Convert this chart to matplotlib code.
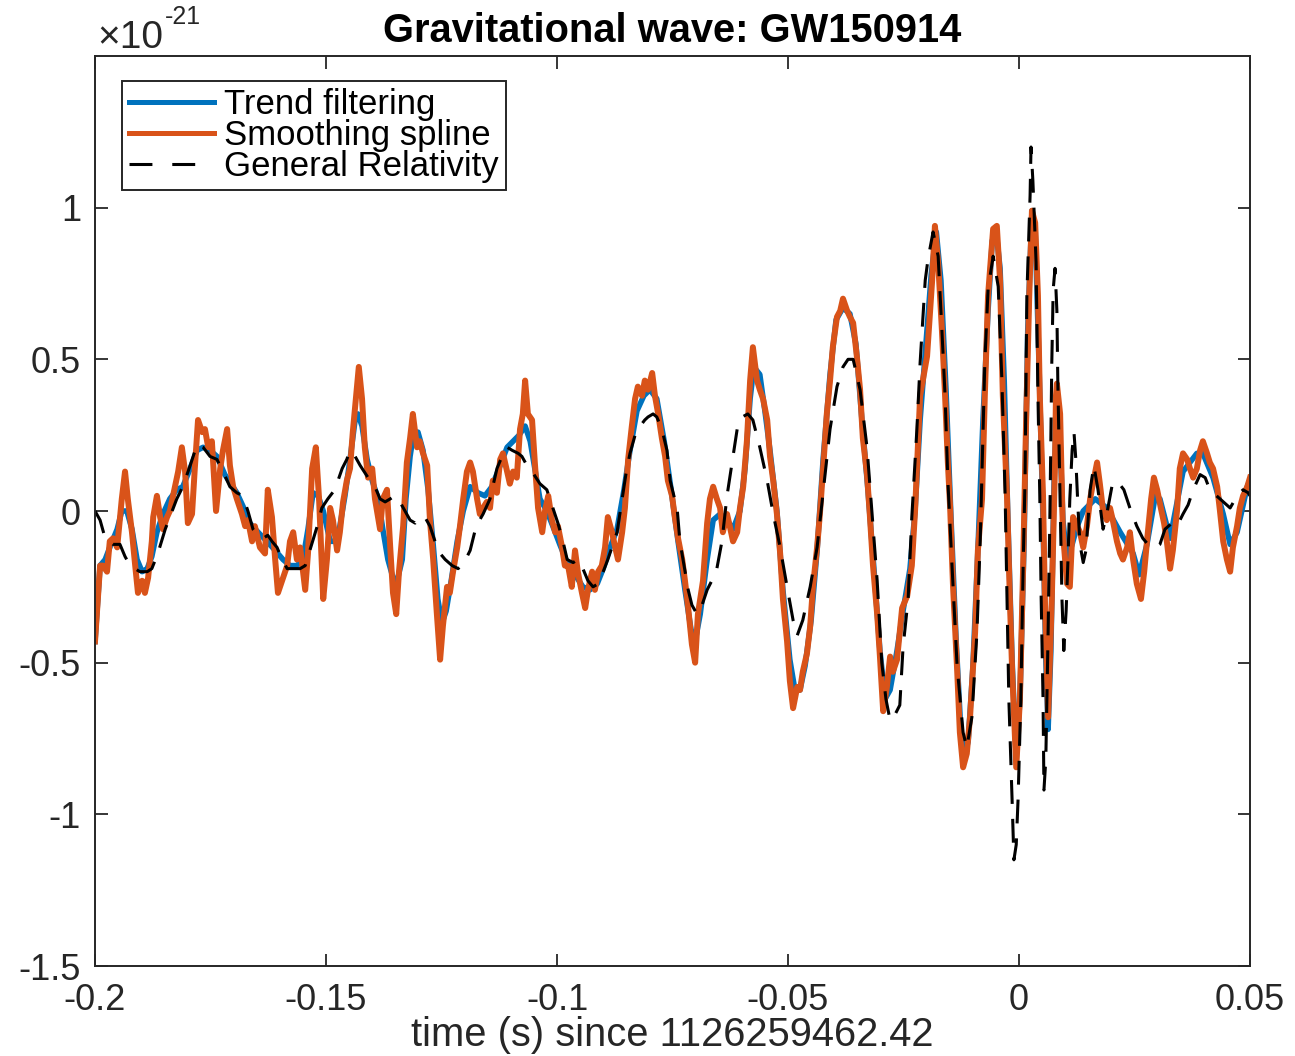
import numpy as np
import matplotlib
matplotlib.use("Agg")
import matplotlib.pyplot as plt
from matplotlib.lines import Line2D

plt.rcParams['font.family'] = ['Liberation Sans', 'DejaVu Sans']
plt.rcParams['axes.unicode_minus'] = False

# ---------------- data (time in ms since 1126259462.42, strain in 1e-21) ----------------
t_ss = [-200.0, -198.9, -198.3, -197.4, -196.8, -196.1, -195.2, -194.2, -193.5, -192.9,
        -192.0, -191.3, -190.7, -189.8, -189.2, -188.5, -187.7, -187.4, -186.6, -185.9,
        -185.3, -184.4, -183.8, -182.7, -182.0, -181.2, -180.5, -179.9, -179.0, -178.4,
        -177.7, -176.8, -176.2, -175.5, -174.7, -173.8, -172.9, -172.3, -171.4, -170.8,
        -170.1, -169.3, -168.2, -167.5, -166.9, -166.0, -165.4, -164.3, -163.2, -162.6,
        -161.7, -161.0, -160.4, -159.5, -158.4, -157.8, -157.1, -156.3, -155.6, -154.5,
        -153.9, -153.0, -152.2, -151.5, -150.6, -149.8, -149.1, -148.5, -147.6, -147.0,
        -146.3, -145.5, -144.8, -144.2, -143.3, -142.9, -142.2, -141.6, -140.9, -140.0,
        -139.4, -138.3, -137.7, -136.8, -136.1, -135.5, -134.8, -134.2, -133.3, -132.5,
        -131.8, -131.2, -130.3, -129.7, -129.0, -128.1, -127.5, -126.8, -126.0, -125.3,
        -124.7, -123.8, -123.2, -122.5, -121.6, -121.0, -120.3, -119.5, -118.8, -118.2,
        -117.3, -116.7, -116.0, -115.2, -114.5, -113.9, -113.0, -112.3, -111.7, -110.8,
        -110.2, -109.5, -108.7, -108.0, -107.4, -106.9, -106.3, -105.4, -104.8, -104.1,
        -103.2, -102.6, -101.9, -101.1, -100.4, -99.8, -98.9, -98.3, -97.6, -96.8,
        -96.1, -95.5, -94.6, -93.9, -93.3, -92.4, -91.8, -91.1, -90.3, -89.6,
        -89.0, -88.1, -87.4, -86.8, -85.9, -85.3, -84.6, -83.8, -83.1, -82.5,
        -81.6, -81.0, -80.3, -79.4, -78.8, -78.1, -77.3, -76.6, -76.0, -75.1,
        -74.5, -73.8, -72.9, -72.3, -71.6, -70.8, -70.1, -69.5, -68.4, -67.5,
        -66.9, -66.2, -65.4, -64.7, -64.1, -63.2, -62.6, -61.9, -61.0, -60.4,
        -59.7, -58.9, -58.2, -57.6, -56.7, -56.1, -55.4, -54.5, -53.9, -53.2,
        -52.4, -51.7, -51.1, -50.2, -49.6, -48.9, -48.0, -47.4, -46.8, -45.9,
        -45.2, -44.6, -43.7, -43.1, -42.4, -41.6, -40.9, -40.3, -39.4, -38.7,
        -38.1, -37.2, -36.6, -35.9, -35.1, -34.4, -33.8, -32.9, -32.3, -31.6,
        -30.7, -30.1, -29.4, -28.6, -27.9, -27.3, -26.4, -25.3, -24.2, -23.2,
        -22.5, -21.4, -19.9, -18.8, -18.2, -17.5, -16.7, -16.0, -15.4, -14.9,
        -14.3, -13.4, -12.8, -12.1, -11.3, -10.6, -9.5, -8.9, -8.0, -7.4,
        -6.7, -5.6, -4.8, -4.1, -3.5, -2.6, -1.9, -1.5, -0.6, 0.2,
        0.9, 1.5, 2.2, 2.8, 3.5, 4.1, 4.5, 5.2, 5.6, 6.1,
        6.3, 7.1, 7.8, 8.0, 8.2, 8.9, 9.3, 9.5, 10.4, 11.0,
        11.7, 12.6, 13.2, 13.9, 14.7, 15.4, 16.0, 16.9, 17.5, 18.2,
        19.0, 19.7, 20.3, 21.2, 21.9, 22.5, 23.4, 24.0, 24.7, 25.5,
        26.4, 27.1, 27.7, 28.6, 29.2, 29.9, 30.7, 31.4, 32.0, 32.7,
        33.3, 34.2, 34.8, 35.5, 36.4, 37.0, 37.7, 38.5, 39.2, 39.8,
        40.7, 41.3, 42.0, 42.9, 43.5, 44.2, 45.0, 45.7, 46.3, 47.2,
        47.8, 48.5, 49.4, 50.0]
a_ss = [-0.43, -0.18, -0.18, -0.20, -0.10, -0.09, -0.12, 0.04, 0.13, 0.04,
        -0.07, -0.18, -0.27, -0.23, -0.27, -0.22, -0.10, -0.02, 0.05, -0.02,
        -0.06, -0.02, 0.00, 0.08, 0.13, 0.21, 0.13, -0.04, -0.01, 0.14,
        0.30, 0.26, 0.27, 0.21, 0.23, 0.00, 0.14, 0.20, 0.27, 0.15,
        0.08, 0.04, -0.01, -0.05, -0.03, -0.10, -0.05, -0.12, -0.14, 0.07,
        -0.02, -0.16, -0.27, -0.23, -0.18, -0.10, -0.07, -0.16, -0.12, -0.26,
        -0.14, 0.14, 0.21, 0.04, -0.29, -0.16, 0.01, -0.03, -0.13, -0.07,
        0.03, 0.10, 0.14, 0.26, 0.41, 0.475, 0.37, 0.21, 0.11, 0.14,
        0.04, -0.06, 0.04, 0.07, -0.12, -0.27, -0.34, -0.20, -0.05, 0.16,
        0.24, 0.32, 0.21, 0.23, 0.19, 0.15, -0.03, -0.16, -0.34, -0.49,
        -0.38, -0.25, -0.27, -0.20, -0.12, -0.05, 0.04, 0.13, 0.16, 0.13,
        0.04, -0.01, 0.01, 0.03, 0.01, 0.10, 0.06, 0.17, 0.19, 0.13,
        0.09, 0.13, 0.11, 0.27, 0.32, 0.43, 0.32, 0.30, 0.16, 0.01,
        -0.07, 0.00, 0.05, -0.03, -0.07, -0.05, -0.12, -0.18, -0.18, -0.25,
        -0.13, -0.20, -0.27, -0.32, -0.26, -0.20, -0.26, -0.20, -0.18, -0.12,
        -0.02, -0.07, -0.12, -0.16, -0.07, 0.01, 0.17, 0.28, 0.37, 0.41,
        0.38, 0.43, 0.40, 0.455, 0.38, 0.32, 0.24, 0.18, 0.10, 0.05,
        -0.02, -0.09, -0.16, -0.23, -0.32, -0.44, -0.50, -0.34, -0.23, -0.04,
        0.04, 0.08, 0.04, 0.01, -0.07, -0.01, -0.05, -0.10, -0.07, 0.01,
        0.08, 0.23, 0.43, 0.54, 0.43, 0.40, 0.37, 0.30, 0.18, 0.10,
        -0.01, -0.14, -0.29, -0.43, -0.56, -0.65, -0.58, -0.59, -0.53, -0.47,
        -0.38, -0.25, -0.12, -0.01, 0.14, 0.32, 0.43, 0.54, 0.64, 0.66,
        0.70, 0.66, 0.64, 0.62, 0.51, 0.40, 0.24, 0.12, -0.01, -0.18,
        -0.34, -0.48, -0.66, -0.58, -0.48, -0.53, -0.49, -0.32, -0.28, -0.18,
        0.00, 0.38, 0.51, 0.76, 0.94, 0.82, 0.60, 0.38, 0.16, 0.01,
        -0.24, -0.52, -0.73, -0.845, -0.80, -0.68, -0.40, -0.13, 0.04, 0.38,
        0.71, 0.93, 0.94, 0.76, 0.38, 0.05, -0.33, -0.52, -0.845, -0.62,
        -0.18, 0.27, 0.70, 0.99, 0.95, 0.71, 0.38, 0.05, -0.29, -0.57,
        -0.68, -0.29, 0.16, 0.38, 0.42, 0.32, 0.05, -0.07, -0.24, -0.25,
        -0.02, -0.05, -0.07, -0.12, -0.05, 0.04, 0.09, 0.16, 0.09, 0.00,
        -0.03, 0.01, -0.03, -0.10, -0.14, -0.16, -0.12, -0.07, -0.16, -0.24,
        -0.29, -0.20, -0.10, 0.04, 0.11, 0.07, 0.01, -0.04, -0.10, -0.19,
        -0.13, 0.00, 0.14, 0.19, 0.17, 0.14, 0.11, 0.14, 0.20, 0.23,
        0.19, 0.16, 0.14, 0.08, 0.00, -0.10, -0.16, -0.20, -0.12, -0.05,
        0.01, 0.05, 0.08, 0.11]

t_tf = [-200.0, -198.9, -197.8, -196.8, -195.2, -194.2, -193.1, -192.0, -190.9, -189.8,
        -188.7, -187.7, -186.6, -185.3, -183.8, -182.3, -181.0, -179.4, -177.9, -176.6,
        -175.1, -173.6, -171.9, -169.3, -167.5, -166.5, -164.7, -162.8, -161.0, -159.3,
        -157.8, -156.3, -155.0, -153.9, -152.8, -151.7, -150.6, -149.1, -148.1, -147.0,
        -145.9, -144.8, -143.7, -143.1, -142.2, -141.1, -140.0, -138.7, -137.7, -136.6,
        -135.5, -134.6, -133.5, -132.7, -131.8, -131.0, -130.1, -129.0, -127.9, -126.8,
        -125.8, -124.9, -124.0, -122.9, -121.6, -120.3, -118.8, -117.1, -115.6, -114.1,
        -112.3, -110.8, -109.5, -108.2, -106.9, -105.8, -104.8, -103.7, -102.2, -100.9,
        -99.4, -97.8, -96.1, -94.4, -92.9, -91.3, -90.0, -88.5, -87.0, -85.5,
        -84.2, -82.7, -81.2, -79.9, -78.4, -76.8, -75.3, -73.8, -72.3, -71.0,
        -70.1, -69.0, -67.5, -66.2, -64.7, -63.2, -61.9, -60.4, -59.3, -58.2,
        -57.4, -56.1, -55.0, -53.9, -52.4, -51.1, -49.6, -48.5, -47.4, -46.3,
        -45.0, -43.7, -42.4, -40.9, -39.6, -38.1, -36.6, -35.3, -34.0, -32.7,
        -31.4, -30.1, -29.0, -27.9, -26.4, -25.1, -23.6, -22.5, -21.4, -20.1,
        -19.0, -17.9, -16.9, -15.8, -14.7, -13.6, -12.6, -11.9, -11.0, -10.0,
        -8.9, -7.8, -6.7, -5.8, -5.0, -4.1, -3.2, -2.4, -1.5, -0.6,
        0.2, 1.1, 1.9, 2.8, 3.5, 4.3, 5.2, 5.8, 6.3, 6.9,
        7.6, 8.2, 8.9, 9.5, 10.4, 11.5, 12.6, 13.9, 16.5, 19.0,
        21.9, 24.7, 26.0, 27.7, 29.5, 30.5, 32.7, 35.5, 38.5, 39.8,
        42.0, 44.2, 45.7, 47.2, 49.4, 50.0]
a_tf = [-0.43, -0.18, -0.16, -0.12, -0.06, 0.00, 0.00, -0.06, -0.16, -0.20,
        -0.19, -0.15, -0.07, -0.01, 0.04, 0.07, 0.08, 0.14, 0.20, 0.21,
        0.20, 0.18, 0.12, 0.06, 0.00, -0.04, -0.07, -0.10, -0.13, -0.16,
        -0.18, -0.18, -0.16, -0.06, 0.06, 0.05, 0.00, -0.10, -0.10, -0.05,
        0.05, 0.17, 0.30, 0.32, 0.28, 0.17, 0.10, 0.04, -0.06, -0.16,
        -0.22, -0.23, -0.16, 0.04, 0.18, 0.26, 0.26, 0.20, 0.07, -0.11,
        -0.29, -0.37, -0.33, -0.23, -0.10, 0.00, 0.08, 0.06, 0.05, 0.08,
        0.15, 0.21, 0.23, 0.25, 0.28, 0.23, 0.14, 0.04, 0.00, -0.05,
        -0.11, -0.17, -0.21, -0.25, -0.26, -0.24, -0.19, -0.12, -0.06, 0.07,
        0.20, 0.33, 0.38, 0.40, 0.37, 0.23, 0.07, -0.10, -0.26, -0.39,
        -0.43, -0.34, -0.16, -0.03, -0.01, -0.03, -0.06, 0.00, 0.14, 0.37,
        0.475, 0.45, 0.33, 0.20, 0.00, -0.26, -0.49, -0.59, -0.59, -0.51,
        -0.36, -0.13, 0.17, 0.45, 0.63, 0.67, 0.65, 0.55, 0.30, 0.07,
        -0.19, -0.46, -0.62, -0.59, -0.46, -0.33, -0.19, 0.00, 0.30, 0.56,
        0.78, 0.92, 0.76, 0.40, -0.03, -0.43, -0.72, -0.81, -0.76, -0.52,
        -0.13, 0.30, 0.66, 0.89, 0.93, 0.80, 0.43, -0.03, -0.49, -0.82,
        -0.62, -0.10, 0.60, 0.99, 0.93, 0.50, -0.03, -0.49, -0.72, -0.46,
        0.10, 0.37, 0.23, -0.03, -0.16, -0.11, -0.05, 0.00, 0.04, 0.01,
        -0.07, -0.14, -0.21, -0.11, 0.05, 0.04, -0.09, 0.13, 0.19, 0.19,
        0.11, -0.01, -0.11, -0.07, 0.08, 0.10]

t_gr = [-200.0, -198.9, -197.8, -196.1, -194.6, -193.5, -192.4, -190.3, -188.7, -187.7,
        -186.4, -184.8, -183.8, -182.3, -181.0, -179.4, -177.9, -176.6, -175.1, -173.6,
        -172.3, -170.8, -169.3, -168.0, -166.9, -165.8, -164.7, -163.6, -162.6, -161.7,
        -160.6, -159.5, -158.4, -157.1, -155.6, -154.5, -153.5, -151.9, -150.9, -149.6,
        -148.1, -146.5, -145.5, -144.8, -143.7, -142.6, -140.9, -139.4, -138.3, -137.2,
        -136.1, -135.1, -134.0, -132.9, -131.8, -130.7, -129.7, -128.6, -127.5, -126.4,
        -125.3, -124.2, -122.7, -121.4, -120.1, -118.8, -117.5, -116.0, -114.5, -113.0,
        -111.9, -110.8, -109.7, -108.4, -107.6, -106.5, -105.4, -103.7, -102.2, -100.9,
        -99.8, -98.7, -97.8, -96.5, -95.5, -94.4, -93.3, -92.2, -91.1, -90.0,
        -89.0, -87.9, -87.0, -85.9, -85.1, -84.2, -83.1, -82.0, -81.0, -80.3,
        -79.2, -78.4, -77.3, -76.2, -75.5, -74.7, -74.0, -73.4, -72.5, -71.6,
        -70.8, -69.7, -68.6, -67.5, -66.5, -65.4, -64.3, -63.2, -62.1, -61.0,
        -59.9, -58.7, -57.6, -56.1, -54.5, -53.2, -51.7, -50.2, -48.9, -48.0,
        -46.8, -45.2, -43.7, -42.4, -40.9, -39.4, -38.1, -37.0, -35.9, -34.4,
        -32.9, -31.8, -30.7, -29.7, -28.8, -27.9, -26.8, -25.8, -25.1, -24.0,
        -23.2, -22.1, -21.4, -20.3, -19.7, -18.6, -17.5, -16.7, -16.0, -15.4,
        -14.5, -13.4, -12.1, -11.3, -10.2, -9.1, -8.4, -7.4, -6.7, -5.6,
        -4.5, -3.7, -3.0, -2.6, -2.2, -1.5, -1.1, -0.6, -0.2, 0.4,
        0.9, 1.3, 1.7, 2.4, 2.6, 3.0, 3.7, 4.1, 4.5, 4.8,
        5.2, 5.4, 5.8, 6.3, 6.7, 7.1, 7.4, 7.8, 8.2, 8.4,
        8.9, 9.3, 9.7, 10.2, 10.6, 11.0, 11.5, 11.9, 12.3, 12.8,
        13.2, 13.9, 14.5, 15.4, 16.2, 17.1, 18.2, 19.0, 20.1, 21.2,
        22.7, 24.0, 25.5, 26.8, 27.9, 29.5, 30.5, 31.6, 33.1, 34.2,
        35.5, 36.6, 37.7, 39.2, 40.3, 41.3, 43.5, 45.7, 47.2, 48.5,
        49.6, 50.0]
a_gr = [0.00, -0.03, -0.09, -0.11, -0.11, -0.15, -0.18, -0.20, -0.20, -0.19,
        -0.14, -0.06, -0.02, 0.04, 0.08, 0.15, 0.22, 0.21, 0.18, 0.17,
        0.13, 0.08, 0.06, 0.05, 0.00, -0.06, -0.08, -0.09, -0.08, -0.10,
        -0.12, -0.16, -0.19, -0.19, -0.19, -0.18, -0.13, -0.05, 0.01, 0.04,
        0.07, 0.14, 0.17, 0.20, 0.18, 0.15, 0.11, 0.08, 0.04, 0.03,
        0.04, 0.05, 0.03, 0.00, -0.03, -0.04, -0.02, -0.02, -0.05, -0.10,
        -0.14, -0.16, -0.18, -0.19, -0.17, -0.13, -0.05, -0.01, 0.04, 0.14,
        0.18, 0.21, 0.20, 0.19, 0.18, 0.15, 0.13, 0.09, 0.07, 0.01,
        -0.04, -0.10, -0.16, -0.17, -0.16, -0.19, -0.23, -0.25, -0.24, -0.20,
        -0.16, -0.11, -0.07, 0.04, 0.12, 0.19, 0.25, 0.28, 0.30, 0.31,
        0.32, 0.31, 0.27, 0.20, 0.10, 0.05, 0.01, -0.10, -0.18, -0.26,
        -0.31, -0.34, -0.31, -0.26, -0.23, -0.19, -0.10, 0.05, 0.16, 0.27,
        0.31, 0.32, 0.30, 0.21, 0.10, -0.01, -0.12, -0.25, -0.36, -0.41,
        -0.36, -0.25, -0.12, 0.06, 0.27, 0.41, 0.475, 0.50, 0.50, 0.40,
        0.21, -0.01, -0.23, -0.50, -0.62, -0.69, -0.67, -0.64, -0.45, -0.29,
        -0.02, 0.27, 0.49, 0.76, 0.83, 0.92, 0.84, 0.60, 0.38, 0.10,
        -0.18, -0.51, -0.73, -0.78, -0.68, -0.40, -0.10, 0.49, 0.73, 0.84,
        0.74, 0.43, 0.05, -0.29, -0.62, -0.95, -1.15, -1.10, -0.95, -0.62,
        -0.18, 0.10, 0.71, 1.04, 1.20, 1.09, 0.82, 0.38, 0.05, -0.29,
        -0.62, -0.92, -0.82, -0.40, 0.00, 0.49, 0.73, 0.80, 0.66, 0.43,
        0.04, -0.29, -0.46, -0.33, -0.16, 0.04, 0.20, 0.26, 0.17, 0.00,
        -0.11, -0.17, -0.13, 0.07, 0.15, 0.07, -0.06, -0.01, 0.08, 0.10,
        0.07, 0.01, -0.05, -0.09, -0.11, -0.12, -0.11, -0.06, -0.04, -0.05,
        -0.01, 0.02, 0.07, 0.12, 0.11, 0.07, 0.04, 0.01, 0.05, 0.07,
        0.06, 0.05]

x_ticks = [-0.2, -0.15, -0.1, -0.05, 0, 0.05]
x_ticklabels = ['-0.2', '-0.15', '-0.1', '-0.05', '0', '0.05']
y_ticks = [-1.5, -1, -0.5, 0, 0.5, 1]
y_ticklabels = ['-1.5', '-1', '-0.5', '0', '0.5', '1']
labels = ['Trend filtering', 'Smoothing spline', 'General Relativity']

# ---------------- figure ----------------
W, H = 1295, 1056
fig = plt.figure(figsize=(W / 100, H / 100), dpi=100)
ax = fig.add_axes([95 / W, 1 - 966 / H, 1155 / W, 910 / H])

axc = '#262626'
c_tf, c_ss = '#0072BD', '#D95319'
ax.plot(np.array(t_tf) / 1000, a_tf, color=c_tf, lw=4.0)
ax.plot(np.array(t_ss) / 1000, a_ss, color=c_ss, lw=4.3)
ax.plot(np.array(t_gr) / 1000, a_gr, color='black', lw=2.2, ls=(0, (7.8, 4.9)))

ax.set_xlim(-0.2, 0.05)
ax.set_ylim(-1.5, 1.5)
ax.set_xticks(x_ticks)
ax.set_xticklabels(x_ticklabels)
ax.set_yticks(y_ticks)
ax.set_yticklabels(y_ticklabels)
ax.tick_params(direction='in', length=9, width=1.3, colors=axc, labelsize=26,
               top=True, right=True, labelcolor='#262626')
ax.tick_params(axis='x', pad=12)
ax.tick_params(axis='y', pad=10)
for s in ax.spines.values():
    s.set_color(axc)
    s.set_linewidth(1.4)

ax.set_title('Gravitational wave: GW150914', fontsize=28.7, fontweight='bold', pad=10)
ax.set_xlabel('time (s) since 1126259462.42', fontsize=28.7, color='#262626')
ax.xaxis.set_label_coords(0.5, -0.055)

fig.text(97 / W, 1 - 48 / H, '\u00d710', fontsize=28, color='#262626', ha='left', va='baseline')
fig.text(165 / W, 1 - 24 / H, '-21', fontsize=18, color='#262626', ha='left', va='baseline')

handles = [Line2D([], [], color=c_tf, lw=3.6),
           Line2D([], [], color=c_ss, lw=3.6),
           Line2D([], [], color='black', lw=2.2, ls=(0, (7.5, 6.5)))]
leg = ax.legend(handles, labels, loc='upper left', bbox_to_anchor=(27 / 1155, 1 - 25 / 910),
                borderaxespad=0, fontsize=25, frameon=True, fancybox=False, edgecolor=axc,
                framealpha=1, handlelength=2.45, handletextpad=0.3, labelspacing=-0.05,
                borderpad=0.2)
leg.get_frame().set_linewidth(1.4)

fig.savefig('out.png', dpi=100)
